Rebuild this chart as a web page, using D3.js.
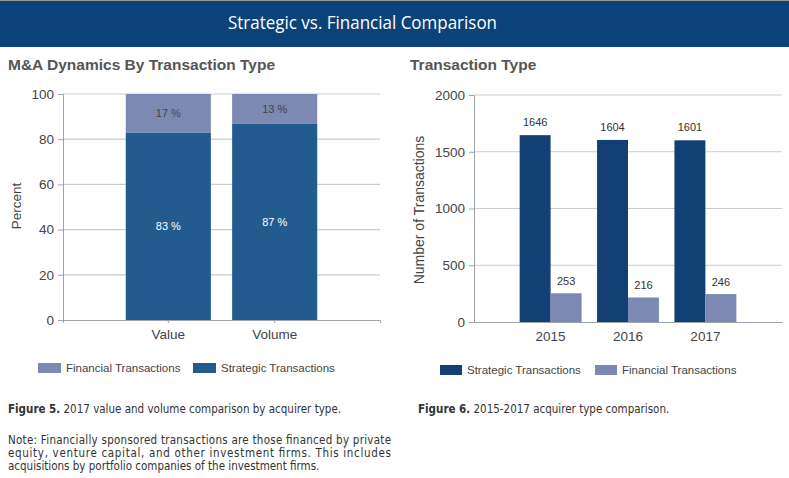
<!DOCTYPE html>
<html>
<head>
<meta charset="utf-8">
<script src="https://cdn.jsdelivr.net/npm/d3@7"></script>
<style>
  body { margin: 0; background: #fff; }
  text { font-family: "Liberation Sans", Arial, sans-serif; }
  .cap { font-family: "DejaVu Sans Condensed", "DejaVu Sans", sans-serif; fill: #333; }
</style>
</head>
<body>
<div id="chart-area"></div>
<script>
// left chart data (percent)
var mixCats = ["Value", "Volume"];
var mixStrategic = [83, 87];
var mixFinancial = [17, 13];
var pctTicks = [0, 20, 40, 60, 80, 100];

// right chart data (counts)
var years = ["2015", "2016", "2017"];
var strategicCounts = [1646, 1604, 1601];
var financialCounts = [253, 216, 246];
var countTicks = [0, 500, 1000, 1500, 2000];

var colStratL = "#225c8f", colFin = "#7c89b2", colStratR = "#123f74";
var gridCol = "#c9cdd2", axisCol = "#9ea4ab", tickTxt = "#444";

var svg = d3.select("#chart-area")
    .append("svg")
    .attr("width", 789)
    .attr("height", 478);

// header band
svg.append("rect").attr("x", 0).attr("y", 0).attr("width", 789).attr("height", 1).attr("fill", "#9a9a9a");
svg.append("rect").attr("x", 0).attr("y", 1).attr("width", 789).attr("height", 46).attr("fill", "#0b4279");
svg.append("text")
    .attr("x", 228).attr("y", 29)
    .attr("fill", "#fff")
    .style("font-family", "'Open Sans', sans-serif")
    .attr("font-size", "18px")
    .attr("textLength", 269).attr("lengthAdjust", "spacingAndGlyphs")
    .text("Strategic vs. Financial Comparison");

// subtitles
svg.append("text").attr("x", 8).attr("y", 70)
    .attr("font-size", "15.5px").attr("font-weight", "bold").attr("fill", "#555")
    .text("M&A Dynamics By Transaction Type");
svg.append("text").attr("x", 410).attr("y", 70)
    .attr("font-size", "15.5px").attr("font-weight", "bold").attr("fill", "#555")
    .text("Transaction Type");

// ---------- left chart ----------
var gL = svg.append("g");
var xL = d3.scaleBand().domain(mixCats).range([63, 380]).paddingInner(0.2).paddingOuter(0.59);
var yL = d3.scaleLinear().domain([0, 100]).range([320, 94]);

gL.selectAll(".grid").data(pctTicks.slice(1)).enter().append("line")
    .attr("x1", 63).attr("x2", 380)
    .attr("y1", function(d){ return yL(d); }).attr("y2", function(d){ return yL(d); })
    .attr("stroke", gridCol).attr("stroke-width", 1.2);

var yAxisL = gL.append("g").attr("transform", "translate(63,0)")
    .call(d3.axisLeft(yL).tickValues(pctTicks).tickSize(5).tickPadding(4));
yAxisL.select(".domain").attr("stroke", axisCol);
yAxisL.selectAll(".tick line").attr("stroke", axisCol);
yAxisL.selectAll("text").attr("font-size", "13.5px").attr("fill", tickTxt).style("font-family", "'Liberation Sans', Arial, sans-serif");

// strategic segments
gL.selectAll(".bs").data(mixCats).enter().append("rect")
    .attr("x", function(d){ return xL(d); })
    .attr("width", xL.bandwidth())
    .attr("y", function(d, i){ return yL(mixStrategic[i]); })
    .attr("height", function(d, i){ return yL(0) - yL(mixStrategic[i]); })
    .attr("fill", colStratL);
gL.selectAll(".bf").data(mixCats).enter().append("rect")
    .attr("x", function(d){ return xL(d); })
    .attr("width", xL.bandwidth())
    .attr("y", function(d, i){ return yL(mixStrategic[i] + mixFinancial[i]); })
    .attr("height", function(d, i){ return yL(mixStrategic[i]) - yL(mixStrategic[i] + mixFinancial[i]); })
    .attr("fill", colFin);

gL.selectAll(".ls").data(mixCats).enter().append("text")
    .attr("x", function(d){ return xL(d) + xL.bandwidth()/2; })
    .attr("y", function(d, i){ return yL(mixStrategic[i]/2) + 4; })
    .attr("text-anchor", "middle").attr("font-size", "11px").attr("fill", "#fff")
    .text(function(d, i){ return mixStrategic[i] + " %"; });
gL.selectAll(".lf").data(mixCats).enter().append("text")
    .attr("x", function(d){ return xL(d) + xL.bandwidth()/2; })
    .attr("y", function(d, i){ return yL(mixStrategic[i] + mixFinancial[i]/2) + 4; })
    .attr("text-anchor", "middle").attr("font-size", "11px").attr("fill", "#444")
    .text(function(d, i){ return mixFinancial[i] + " %"; });

var xAxisL = gL.append("g").attr("transform", "translate(0,320)")
    .call(d3.axisBottom(xL).tickSize(3).tickPadding(6));
xAxisL.select(".domain").attr("stroke", axisCol);
xAxisL.selectAll(".tick line").attr("stroke", axisCol);
xAxisL.selectAll("text").attr("font-size", "13.5px").attr("fill", tickTxt).style("font-family", "'Liberation Sans', Arial, sans-serif");

gL.append("text")
    .attr("transform", "translate(21,206) rotate(-90)")
    .attr("text-anchor", "middle").attr("font-size", "13.5px").attr("fill", tickTxt)
    .text("Percent");

// left legend
var legL = [["Financial Transactions", colFin, 38], ["Strategic Transactions", colStratL, 193]];
legL.forEach(function(l){
    svg.append("rect").attr("x", l[2]).attr("y", 363).attr("width", 23).attr("height", 10).attr("fill", l[1]);
    svg.append("text").attr("x", l[2] + 28).attr("y", 372).attr("font-size", "11.5px").attr("fill", tickTxt).text(l[0]);
});

// ---------- right chart ----------
var gR = svg.append("g");
var xR = d3.scaleBand().domain(years).range([474, 782]).paddingInner(0.2).paddingOuter(0.59);
var xSub = d3.scaleBand().domain(["s", "f"]).range([0, xR.bandwidth()]);
var yR = d3.scaleLinear().domain([0, 2000]).range([322, 95]);

gR.selectAll(".grid").data(countTicks.slice(1)).enter().append("line")
    .attr("x1", 474).attr("x2", 782)
    .attr("y1", function(d){ return yR(d); }).attr("y2", function(d){ return yR(d); })
    .attr("stroke", gridCol).attr("stroke-width", 1.2);

var yAxisR = gR.append("g").attr("transform", "translate(474,0)")
    .call(d3.axisLeft(yR).tickValues(countTicks).tickFormat(d3.format("d")).tickSize(5).tickPadding(4));
yAxisR.select(".domain").attr("stroke", axisCol);
yAxisR.selectAll(".tick line").attr("stroke", axisCol);
yAxisR.selectAll("text").attr("font-size", "13.5px").attr("fill", tickTxt).style("font-family", "'Liberation Sans', Arial, sans-serif");

gR.selectAll(".rs").data(years).enter().append("rect")
    .attr("x", function(d){ return xR(d) + xSub("s"); })
    .attr("width", xSub.bandwidth())
    .attr("y", function(d, i){ return yR(strategicCounts[i]); })
    .attr("height", function(d, i){ return yR(0) - yR(strategicCounts[i]); })
    .attr("fill", colStratR);
gR.selectAll(".rf").data(years).enter().append("rect")
    .attr("x", function(d){ return xR(d) + xSub("f"); })
    .attr("width", xSub.bandwidth())
    .attr("y", function(d, i){ return yR(financialCounts[i]); })
    .attr("height", function(d, i){ return yR(0) - yR(financialCounts[i]); })
    .attr("fill", colFin);

gR.selectAll(".ts").data(years).enter().append("text")
    .attr("x", function(d){ return xR(d) + xSub("s") + xSub.bandwidth()/2; })
    .attr("y", function(d, i){ return yR(strategicCounts[i]) - 9; })
    .attr("text-anchor", "middle").attr("font-size", "11px").attr("fill", "#333")
    .text(function(d, i){ return strategicCounts[i]; });
gR.selectAll(".tf").data(years).enter().append("text")
    .attr("x", function(d){ return xR(d) + xSub("f") + xSub.bandwidth()/2; })
    .attr("y", function(d, i){ return yR(financialCounts[i]) - 8; })
    .attr("text-anchor", "middle").attr("font-size", "11px").attr("fill", "#333")
    .text(function(d, i){ return financialCounts[i]; });

var xAxisR = gR.append("g").attr("transform", "translate(0,322)")
    .call(d3.axisBottom(xR).tickSize(0).tickPadding(9));
xAxisR.select(".domain").attr("stroke", axisCol);
xAxisR.selectAll("text").attr("font-size", "13.5px").attr("fill", tickTxt).style("font-family", "'Liberation Sans', Arial, sans-serif");

gR.append("text")
    .attr("transform", "translate(424,210) rotate(-90)")
    .attr("text-anchor", "middle").attr("font-size", "14px").attr("fill", tickTxt)
    .text("Number of Transactions");

var legR = [["Strategic Transactions", colStratR, 440], ["Financial Transactions", colFin, 595]];
legR.forEach(function(l){
    svg.append("rect").attr("x", l[2]).attr("y", 365).attr("width", 22).attr("height", 10).attr("fill", l[1]);
    svg.append("text").attr("x", l[2] + 27).attr("y", 374).attr("font-size", "11.5px").attr("fill", tickTxt).text(l[0]);
});

// ---------- captions ----------
function caption(x, y, bold, rest) {
    var t = svg.append("text").attr("class", "cap").attr("x", x).attr("y", y).attr("font-size", "11.5px");
    t.append("tspan").attr("font-weight", "bold").text(bold);
    t.append("tspan").text(rest);
}
caption(8, 413, "Figure 5.", " 2017 value and volume comparison by acquirer type.");
caption(418, 413, "Figure 6.", " 2015-2017 acquirer type comparison.");

var noteLines = [
    "Note: Financially sponsored transactions are those financed by private",
    "equity, venture capital, and other investment firms. This includes",
    "acquisitions by portfolio companies of the investment firms."
];
noteLines.forEach(function(line, i){
    var t = svg.append("text").attr("class", "cap")
        .attr("x", 8).attr("y", 444 + i*13).attr("font-size", "11.5px")
        .text(line);
    if (i < noteLines.length - 1) t.attr("textLength", 383).attr("lengthAdjust", "spacing");
});
</script>
</body>
</html>
